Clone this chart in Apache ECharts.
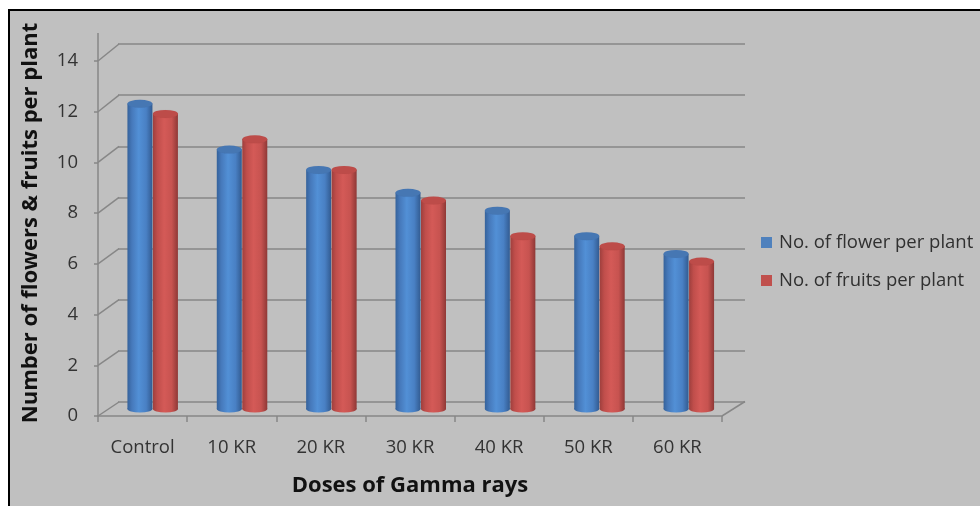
<!DOCTYPE html>
<html>
<head>
<meta charset="utf-8">
<script src="https://cdn.jsdelivr.net/npm/echarts@6/dist/echarts.min.js"></script>
<style>
  html, body { margin: 0; padding: 0; background: #ffffff; }
  #frame { position: absolute; left: 8px; top: 9px; width: 990px; height: 520px;
           border-left: 2px solid #000; border-top: 2px solid #000; background: #c0c0c0; }
  #chart { position: absolute; left: 0; top: 0; width: 980px; height: 506px; }
</style>
</head>
<body>
<div id="frame"></div>
<div id="chart"></div>
<script>
const categories = ['Control', '10 KR', '20 KR', '30 KR', '40 KR', '50 KR', '60 KR'];
const flowerValues = [12.0, 10.2, 9.4, 8.5, 7.8, 6.8, 6.1];
const fruitValues = [11.6, 10.6, 9.4, 8.2, 6.8, 6.4, 5.8];
const yTicks = [0, 2, 4, 6, 8, 10, 12, 14];
const seriesNames = ['No. of flower per plant', 'No. of fruits per plant'];
const xTitle = 'Doses of Gamma rays';
const yTitle = 'Number of flowers & fruits per plant';

const FONT = 'Open Sans';
const GRID_COLOR = '#878787';
const LG = echarts.graphic.LinearGradient;
const blueBody = new LG(0, 0, 1, 0, [
  { offset: 0, color: '#35629b' }, { offset: 0.18, color: '#4679bb' },
  { offset: 0.45, color: '#5290d6' }, { offset: 0.75, color: '#4980c4' },
  { offset: 1, color: '#325b91' }]);
const redBody = new LG(0, 0, 1, 0, [
  { offset: 0, color: '#9e3f3d' }, { offset: 0.18, color: '#c04e4b' },
  { offset: 0.45, color: '#d45a57' }, { offset: 0.75, color: '#c75350' },
  { offset: 1, color: '#8f3836' }]);

const BW = 25, HALF = 12.75;

const chart = echarts.init(document.getElementById('chart'), null, { renderer: 'canvas' });
chart.setOption({
  backgroundColor: 'transparent',
  animation: false,
  textStyle: { fontFamily: FONT },
  grid: [
    { left: 118, top: 44, width: 627, height: 358 },
    { left: 98, top: 61, width: 624, height: 355 },
    { left: 108, top: 52.5, width: 625.5, height: 356.5 }
  ],
  legend: {
    orient: 'vertical', left: 756, top: 228, itemWidth: 11, itemHeight: 11, itemGap: 19,
    icon: 'rect',
    textStyle: { fontFamily: FONT, fontSize: 18.5, color: '#303030', padding: [0, 0, 0, 2] },
    data: [
      { name: seriesNames[0], itemStyle: { color: '#4f81bd' } },
      { name: seriesNames[1], itemStyle: { color: '#c0504d' } }
    ]
  },
  xAxis: [
    { gridIndex: 0, type: 'category', data: categories, show: false },
    { gridIndex: 1, type: 'category', data: categories,
      axisLine: { lineStyle: { color: GRID_COLOR, width: 1.5 } },
      axisTick: { show: true, length: 6, lineStyle: { color: GRID_COLOR, width: 1.5 } },
      axisLabel: { color: '#333333', fontSize: 18.5, margin: 22, fontFamily: FONT },
      name: xTitle, nameLocation: 'middle', nameGap: 59,
      nameTextStyle: { fontFamily: FONT, fontWeight: 'bold', fontSize: 22, color: '#111111' } },
    { gridIndex: 2, type: 'category', data: categories, show: false }
  ],
  yAxis: [
    { gridIndex: 0, type: 'value', min: 0, max: 14, interval: 2,
      axisLabel: { show: false }, axisLine: { show: false }, axisTick: { show: false },
      splitLine: { lineStyle: { color: GRID_COLOR, width: 1.5 } },
      name: yTitle, nameLocation: 'middle', nameGap: 76, nameRotate: 90,
      nameTextStyle: { fontFamily: FONT, fontWeight: 'bold', fontSize: 22, color: '#111111' } },
    { gridIndex: 1, type: 'value', min: 0, max: 14, interval: 2,
      axisLine: { show: true, lineStyle: { color: GRID_COLOR, width: 1.5 } },
      axisTick: { show: true, length: 4, lineStyle: { color: GRID_COLOR, width: 1.5 } },
      axisLabel: { color: '#333333', fontSize: 18.5, margin: 20, fontFamily: FONT },
      splitLine: { show: false } },
    { gridIndex: 2, type: 'value', min: 0, max: 14, show: false }
  ],
  series: [
    { type: 'custom', xAxisIndex: 1, yAxisIndex: 1, silent: true, z: 1,
      data: yTicks.map(v => [0, v]),
      renderItem: function (params, api) {
        const v = api.value(1);
        const p = api.coord([0, v]);
        const cs = params.coordSys;
        const x0 = cs.x, y0 = p[1];
        const yb = y0 - 14 - v * 3 / 14;
        const style = { stroke: GRID_COLOR, lineWidth: 1.5 };
        const children = [{ type: 'line', shape: { x1: x0, y1: y0, x2: x0 + 21, y2: yb }, style: style }];
        if (v === yTicks[yTicks.length - 1]) {
          children.push({ type: 'line', shape: { x1: x0, y1: y0, x2: x0, y2: y0 - 28 }, style: style });
        }
        if (v === 0) {
          children.push({ type: 'line', shape: { x1: x0 + cs.width, y1: y0, x2: x0 + cs.width + 23, y2: y0 - 14.5 }, style: style });
        }
        return { type: 'group', children: children };
      } },
    { type: 'pictorialBar', name: 'fb', xAxisIndex: 2, yAxisIndex: 2, data: flowerValues,
      symbol: 'circle', symbolSize: [BW, 7], symbolPosition: 'start', symbolOffset: [-HALF, '50%'],
      barGap: '-100%', itemStyle: { color: blueBody }, z: 2, silent: true },
    { type: 'pictorialBar', name: 'rb', xAxisIndex: 2, yAxisIndex: 2, data: fruitValues,
      symbol: 'circle', symbolSize: [BW, 7], symbolPosition: 'start', symbolOffset: [HALF, '50%'],
      barGap: '-100%', itemStyle: { color: redBody }, z: 2, silent: true },
    { type: 'bar', name: seriesNames[0], xAxisIndex: 2, yAxisIndex: 2, data: flowerValues,
      barWidth: BW, barGap: '2%', itemStyle: { color: blueBody }, z: 3 },
    { type: 'bar', name: seriesNames[1], xAxisIndex: 2, yAxisIndex: 2, data: fruitValues,
      barWidth: BW, barGap: '2%', itemStyle: { color: redBody }, z: 3 },
    { type: 'pictorialBar', name: 'ft', xAxisIndex: 2, yAxisIndex: 2, data: flowerValues,
      symbol: 'circle', symbolSize: [BW, 8], symbolPosition: 'end', symbolOffset: [-HALF, '-50%'],
      barGap: '-100%', itemStyle: { color: '#4677b3', borderColor: '#34608f', borderWidth: 1 }, z: 4, silent: true },
    { type: 'pictorialBar', name: 'rt', xAxisIndex: 2, yAxisIndex: 2, data: fruitValues,
      symbol: 'circle', symbolSize: [BW, 8], symbolPosition: 'end', symbolOffset: [HALF, '-50%'],
      barGap: '-100%', itemStyle: { color: '#bd4c49', borderColor: '#963b39', borderWidth: 1 }, z: 4, silent: true }
  ]
});
</script>
</body>
</html>
